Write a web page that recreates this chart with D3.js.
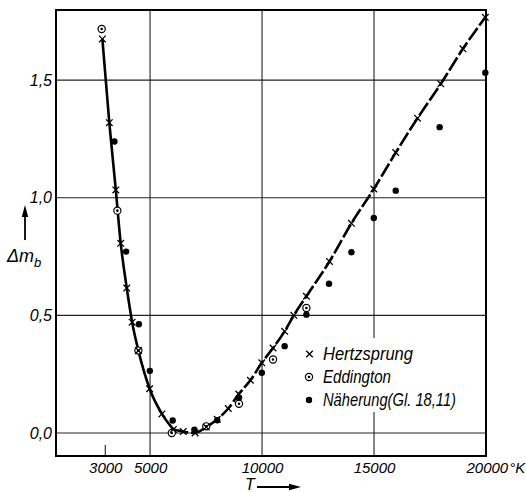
<!DOCTYPE html>
<html>
<head>
<meta charset="utf-8">
<script src="https://cdn.jsdelivr.net/npm/d3@7"></script>
<style>
  body { margin: 0; background: #fff; }
  svg text { font-family: "Liberation Sans", Arial, sans-serif; font-style: italic; fill: #000; }
</style>
</head>
<body>
<div id="chart"></div>
<script>
// values (T in K, delta m_b)
var hertzT = [2870, 3180, 3470, 3690, 3960, 4200, 4480, 4980, 5530, 6040, 6480, 7010, 7510, 8000, 8490, 8960, 9480, 9990, 10490, 11010, 11420, 11980, 13010, 13990, 14990, 15970, 16940, 17980, 18970, 19970];
var hertzM = [1.675, 1.319, 1.033, 0.806, 0.616, 0.471, 0.350, 0.188, 0.081, 0.015, 0.006, 0.0, 0.025, 0.058, 0.104, 0.165, 0.224, 0.298, 0.361, 0.432, 0.50, 0.581, 0.729, 0.891, 1.037, 1.192, 1.338, 1.484, 1.633, 1.767];
var eddT = [2840, 3540, 4480, 5970, 7510, 8970, 10490, 11980];
var eddM = [1.717, 0.945, 0.350, 0.0, 0.028, 0.124, 0.312, 0.531];
var naehT = [3410, 3930, 4500, 4990, 6010, 6980, 8000, 8970, 9990, 11010, 11980, 12990, 13990, 14990, 15970, 17930, 19970];
var naehM = [1.239, 0.771, 0.462, 0.264, 0.053, 0.014, 0.054, 0.15, 0.256, 0.369, 0.503, 0.634, 0.768, 0.914, 1.03, 1.30, 1.531];
var xTicks = [3000, 5000, 10000, 15000, 20000];
var xGrid = [5000, 10000, 15000];
var yTicks = [0, 0.5, 1.0, 1.5];
var legendNames = ["Hertzsprung", "Eddington", "Näherung(Gl. 18,11)"];

var W = 526, H = 492;
var svg = d3.select("#chart").append("svg").attr("width", W).attr("height", H);

var x = d3.scaleLinear().domain([800, 20000]).range([56, 486]);
var y = d3.scaleLinear().domain([-0.098, 1.798]).range([456, 10]);

// grid
svg.selectAll("line.hg").data(yTicks).enter().append("line")
    .attr("x1", x(800)).attr("x2", x(20000))
    .attr("y1", function(d) { return y(d); }).attr("y2", function(d) { return y(d); })
    .attr("stroke", "#222").attr("stroke-width", 1.1);
svg.selectAll("line.vg").data(xGrid).enter().append("line")
    .attr("x1", function(d) { return x(d); }).attr("x2", function(d) { return x(d); })
    .attr("y1", y(1.798)).attr("y2", y(-0.098))
    .attr("stroke", "#222").attr("stroke-width", 1.1);
// short mark at 3000
svg.append("line").attr("x1", x(3000)).attr("x2", x(3000))
    .attr("y1", y(-0.098) - 11).attr("y2", y(-0.098))
    .attr("stroke", "#222").attr("stroke-width", 1.1);

// frame
svg.append("rect").attr("x", x(800)).attr("y", y(1.798))
    .attr("width", x(20000) - x(800)).attr("height", y(-0.098) - y(1.798))
    .attr("fill", "none").attr("stroke", "#000").attr("stroke-width", 2);

// legend background (breaks the 15000 grid line)
svg.append("rect").attr("x", 302).attr("y", 338).attr("width", 160).attr("height", 74).attr("fill", "#fff");

// axes (labels only)
var fmt = function(d) { return d3.format(".1f")(d).replace(".", ","); };
var gx = svg.append("g").attr("transform", "translate(0," + y(-0.098) + ")")
    .call(d3.axisBottom(x).tickValues(xTicks).tickSize(0).tickPadding(6).tickFormat(d3.format("d")));
gx.select(".domain").remove();
gx.selectAll("text").attr("font-size", 15).attr("font-family", null);
gx.selectAll(".tick").filter(function(d) { return d === 20000; }).select("text")
    .text(null)
    .call(function(t) {
        t.append("tspan").text("20000");
        t.append("tspan").attr("dx", 1).text("°K");
    })
    .attr("text-anchor", "start").attr("x", -20);

var gy = svg.append("g").attr("transform", "translate(" + x(800) + ",0)")
    .call(d3.axisLeft(y).tickValues(yTicks).tickSize(0).tickPadding(4).tickFormat(fmt));
gy.select(".domain").remove();
gy.selectAll("text").attr("font-size", 16).attr("font-family", null);

// curve through Hertzsprung points: solid then dashed
var pts = hertzT.map(function(t, i) { return [t, hertzM[i]]; });
var line = d3.line().x(function(d) { return x(d[0]); }).y(function(d) { return y(d[1]); })
    .curve(d3.curveMonotoneX);
svg.append("path").datum(pts.filter(function(d) { return d[0] <= 6040; }))
    .attr("d", line).attr("fill", "none").attr("stroke", "#000").attr("stroke-width", 2.6);
svg.append("path").datum(pts.filter(function(d) { return d[0] >= 6040; }))
    .attr("d", line).attr("fill", "none").attr("stroke", "#000").attr("stroke-width", 2.6)
    .attr("stroke-dasharray", "15,3");

// markers
function cross(g, cx, cy) {
    var s = 3.3;
    g.append("path").attr("d", "M" + (cx - s) + "," + (cy - s) + "L" + (cx + s) + "," + (cy + s) +
        "M" + (cx - s) + "," + (cy + s) + "L" + (cx + s) + "," + (cy - s))
        .attr("stroke", "#000").attr("stroke-width", 1.3).attr("fill", "none");
}
function ring(g, cx, cy) {
    g.append("circle").attr("cx", cx).attr("cy", cy).attr("r", 3.6)
        .attr("fill", "#fff").attr("stroke", "#000").attr("stroke-width", 1.2);
    g.append("circle").attr("cx", cx).attr("cy", cy).attr("r", 1.3).attr("fill", "#000");
}
function dot(g, cx, cy) {
    g.append("circle").attr("cx", cx).attr("cy", cy).attr("r", 3.2).attr("fill", "#000");
}

var marks = svg.append("g");
eddT.forEach(function(t, i) { ring(marks, x(t), y(eddM[i])); });
naehT.forEach(function(t, i) { dot(marks, x(t), y(naehM[i])); });
hertzT.forEach(function(t, i) { cross(marks, x(t), y(hertzM[i])); });

// legend
var legY = [354, 377, 400];
var legW = [90, 68, 133];
var lg = svg.append("g");
cross(lg, 309.5, legY[0]);
ring(lg, 309, legY[1]);
dot(lg, 309, legY[2]);
lg.selectAll("text").data(legendNames).enter().append("text")
    .attr("x", 323).attr("y", function(d, i) { return legY[i] + 6; })
    .attr("font-size", 18)
    .attr("textLength", function(d, i) { return legW[i]; })
    .attr("lengthAdjust", "spacingAndGlyphs")
    .text(function(d) { return d; });

// y label with arrow
svg.append("line").attr("x1", 25).attr("x2", 25).attr("y1", 240).attr("y2", 214)
    .attr("stroke", "#000").attr("stroke-width", 1.8);
svg.append("path").attr("d", "M25,205L21.8,217L28.2,217Z").attr("fill", "#000");
var yl = svg.append("text").attr("x", 7).attr("y", 262).attr("font-size", 18);
yl.append("tspan").text("Δm");
yl.append("tspan").attr("dy", 5).attr("font-size", 13).text("b");

// x label with arrow
svg.append("text").attr("x", 245).attr("y", 490).attr("font-size", 16).text("T");
svg.append("line").attr("x1", 257).attr("x2", 293).attr("y1", 487).attr("y2", 487)
    .attr("stroke", "#000").attr("stroke-width", 1.8);
svg.append("path").attr("d", "M301,487L289,483.8L289,490.2Z").attr("fill", "#000");
</script>
</body>
</html>
